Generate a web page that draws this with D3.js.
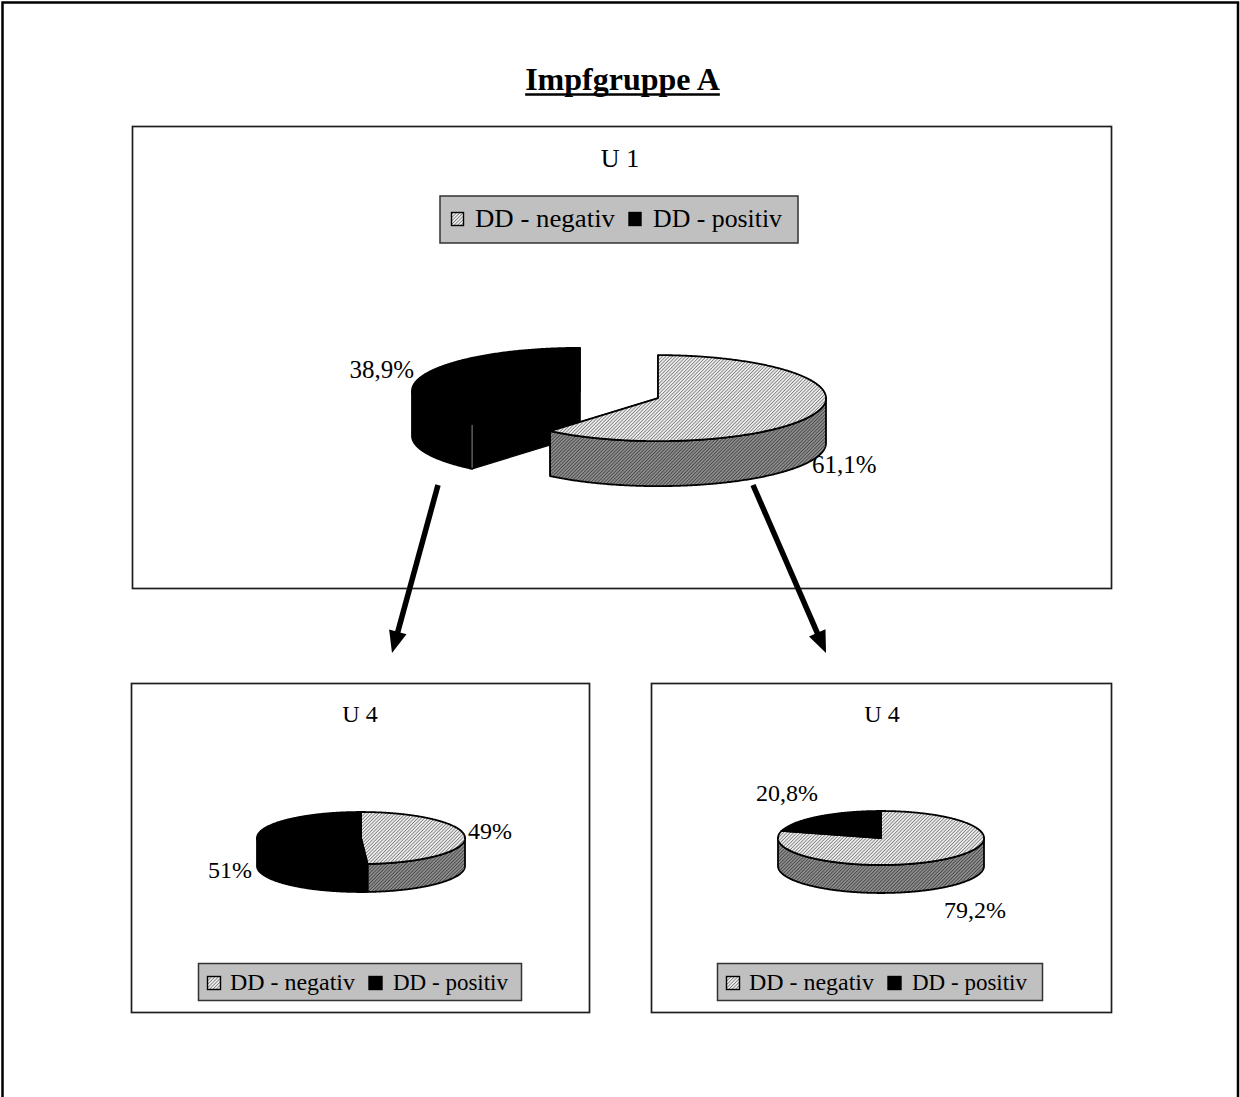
<!DOCTYPE html>
<html>
<head>
<meta charset="utf-8">
<script src="https://cdn.jsdelivr.net/npm/d3@7"></script>
<style>
  body { margin: 0; background: #fff; }
  svg { display: block; }
</style>
</head>
<body>
<script>
// ---- data ----
const pageTitle = "Impfgruppe A";
const categories = ["DD - negativ", "DD - positiv"];
const chartNames = ["U 1", "U 4", "U 4"];
const valuesU1 = [61.1, 38.9];
const valuesU4Left = [49, 51];
const valuesU4Right = [79.2, 20.8];

// ---- layout ----
const W = 1240, H = 1097;
const serif = "'Liberation Serif', 'Times New Roman', serif";

const svg = d3.select("body").append("svg")
  .attr("width", W).attr("height", H)
  .style("font-family", serif);

// hatch fills for the "negativ" slice: light top face, darker side wall
const defs = svg.append("defs");
function hatch(id, bg, lineColor, size, lineW) {
  const p = defs.append("pattern")
    .attr("id", id).attr("patternUnits", "userSpaceOnUse")
    .attr("width", size).attr("height", size)
    .attr("patternTransform", "rotate(45)");
  p.append("rect").attr("width", size).attr("height", size).attr("fill", bg);
  p.append("line").attr("x1", 0).attr("y1", 0).attr("x2", 0).attr("y2", size)
    .attr("stroke", lineColor).attr("stroke-width", lineW);
}
hatch("hatchTop", "#ececec", "#3a3a3a", 2.4, 1.0);
hatch("hatchSide", "#8c8c8c", "#1c1c1c", 2.4, 1.0);

const sliceStyle = [
  { top: "url(#hatchTop)", side: "url(#hatchSide)", edge: "#000" },
  { top: "#000", side: "#000", edge: "#000" }
];

// outer page frame
svg.append("rect").attr("x", 2.5).attr("y", 2.5)
  .attr("width", W - 4.5).attr("height", H + 10)
  .attr("fill", "#fff").attr("stroke", "#000").attr("stroke-width", 2.5);

// page title, bold with underline
const titleText = svg.append("text")
  .attr("x", 622.5).attr("y", 90)
  .attr("text-anchor", "middle")
  .attr("font-size", 32).attr("font-weight", "bold")
  .text(pageTitle);
const tw = titleText.node().getComputedTextLength();
svg.append("line")
  .attr("x1", 622.5 - tw / 2).attr("x2", 622.5 + tw / 2)
  .attr("y1", 94.5).attr("y2", 94.5)
  .attr("stroke", "#000").attr("stroke-width", 2.5);

const fmtPct = v => String(v).replace(".", ",") + "%";

// chart panels
const panels = [
  {
    name: chartNames[0], values: valuesU1,
    box: { x: 132.5, y: 126.5, w: 979, h: 462 },
    nameAt: { x: 620, y: 167 }, nameSize: 26,
    pie: { cx: 619, cy: 394.5, rx: 168, ry: 43, depth: 45, explode: 0.247 },
    labelSize: 25,
    labels: [ { x: 812, y: 473, anchor: "start" }, { x: 414, y: 378, anchor: "end" } ],
    legend: { x: 440, y: 196, w: 358, h: 47, size: 25,
      items: [ { sx: 451, tx: 475, len: 140 }, { sx: 628.5, tx: 653, len: 129 } ],
      sy: 212, sw: 12, sh: 13, base: 227 }
  },
  {
    name: chartNames[1], values: valuesU4Left,
    box: { x: 131.5, y: 683.5, w: 458, h: 329 },
    nameAt: { x: 360, y: 722 }, nameSize: 24,
    pie: { cx: 361, cy: 838, rx: 104, ry: 26, depth: 28, explode: 0 },
    labelSize: 24,
    labels: [ { x: 468, y: 839, anchor: "start" }, { x: 252, y: 878, anchor: "end" } ],
    legend: { x: 198.5, y: 963.5, w: 323, h: 37, size: 23,
      items: [ { sx: 207, tx: 230, len: 125 }, { sx: 368.5, tx: 393, len: 115 } ],
      sy: 976, sw: 13, sh: 13, base: 990 }
  },
  {
    name: chartNames[2], values: valuesU4Right,
    box: { x: 651.5, y: 683.5, w: 460, h: 329 },
    nameAt: { x: 882, y: 722 }, nameSize: 24,
    pie: { cx: 881, cy: 838, rx: 103, ry: 27, depth: 28, explode: 0 },
    labelSize: 24,
    labels: [ { x: 944, y: 918, anchor: "start" }, { x: 818, y: 801, anchor: "end" } ],
    legend: { x: 717.5, y: 963.5, w: 325, h: 37, size: 23,
      items: [ { sx: 726, tx: 749, len: 125 }, { sx: 887.5, tx: 912, len: 115 } ],
      sy: 976, sw: 13, sh: 13, base: 990 }
  }
];

// 3D pie: elliptical top faces extruded downward
function drawPie3D(g, values, cfg) {
  const arcs = d3.pie().sort(null).startAngle(0).endAngle(2 * Math.PI)(values);
  arcs.forEach(d => {
    const m = (d.startAngle + d.endAngle) / 2;
    d.cx = cfg.cx + cfg.explode * cfg.rx * Math.sin(m);
    d.cy = cfg.cy - cfg.explode * cfg.ry * Math.cos(m);
  });
  const pt = (d, a, dy = 0) => [d.cx + cfg.rx * Math.sin(a), d.cy - cfg.ry * Math.cos(a) + dy];
  const arcPts = (d, a0, a1, dy = 0) => {
    const n = Math.max(2, Math.ceil(Math.abs(a1 - a0) / 0.01));
    return d3.range(n + 1).map(i => pt(d, a0 + (a1 - a0) * i / n, dy));
  };
  const line = d3.line();

  const topFace = (sel, d) => {
    const pts = [[d.cx, d.cy]].concat(arcPts(d, d.startAngle, d.endAngle));
    sel.append("path").attr("d", line(pts) + "Z")
      .attr("fill", sliceStyle[d.index].top)
      .attr("stroke", sliceStyle[d.index].edge).attr("stroke-width", 1.8)
      .attr("stroke-linejoin", "round");
  };
  const outerWall = (sel, d) => {
    const a0 = Math.max(d.startAngle, Math.PI / 2);
    const a1 = Math.min(d.endAngle, 3 * Math.PI / 2);
    if (a1 <= a0) return;
    const pts = arcPts(d, a0, a1).concat(arcPts(d, a1, a0, cfg.depth));
    sel.append("path").attr("d", line(pts) + "Z")
      .attr("fill", sliceStyle[d.index].side)
      .attr("stroke", sliceStyle[d.index].edge).attr("stroke-width", 1.8)
      .attr("stroke-linejoin", "round");
    // faint crease where the cut face meets the curved wall of a dark slice
    if (cfg.explode > 0 && sliceStyle[d.index].side === "#000" && d.startAngle > Math.PI / 2) {
      const p = pt(d, d.startAngle);
      sel.append("line").attr("x1", p[0]).attr("y1", p[1] + 1)
        .attr("x2", p[0]).attr("y2", p[1] + cfg.depth - 1)
        .attr("stroke", "#8a8a8a").attr("stroke-width", 1);
    }
  };
  const radialWalls = (sel, d) => {
    [d.startAngle, d.endAngle].forEach(a => {
      const p = pt(d, a);
      const pts = [[d.cx, d.cy], p, [p[0], p[1] + cfg.depth], [d.cx, d.cy + cfg.depth]];
      sel.append("path").attr("d", line(pts) + "Z")
        .attr("fill", sliceStyle[d.index].side)
        .attr("stroke", sliceStyle[d.index].edge).attr("stroke-width", 1.2)
        .attr("stroke-linejoin", "round");
    });
  };

  if (cfg.explode > 0) {
    // separated slices: paint each one whole, back to front
    arcs.slice().sort((a, b) => a.cy - b.cy).forEach(d => {
      const sg = g.append("g");
      radialWalls(sg, d);
      outerWall(sg, d);
      topFace(sg, d);
    });
  } else {
    arcs.forEach(d => outerWall(g, d));
    arcs.forEach(d => topFace(g, d));
  }
  return arcs;
}

panels.forEach(p => {
  const g = svg.append("g");
  g.append("rect")
    .attr("x", p.box.x).attr("y", p.box.y).attr("width", p.box.w).attr("height", p.box.h)
    .attr("fill", "#fff").attr("stroke", "#1e1e1e").attr("stroke-width", 1.7);

  g.append("text").attr("x", p.nameAt.x).attr("y", p.nameAt.y)
    .attr("text-anchor", "middle").attr("font-size", p.nameSize).text(p.name);

  const arcs = drawPie3D(g, p.values, p.pie);

  g.selectAll("text.val").data(arcs).join("text").attr("class", "val")
    .attr("x", d => p.labels[d.index].x).attr("y", d => p.labels[d.index].y)
    .attr("text-anchor", d => p.labels[d.index].anchor)
    .attr("font-size", p.labelSize)
    .text(d => fmtPct(d.data));

  // legend box
  const L = p.legend;
  const lg = g.append("g");
  lg.append("rect").attr("x", L.x).attr("y", L.y).attr("width", L.w).attr("height", L.h)
    .attr("fill", "#c0c0c0").attr("stroke", "#333").attr("stroke-width", 1.5);
  categories.forEach((c, i) => {
    const it = L.items[i];
    lg.append("rect").attr("x", it.sx + 0.5).attr("y", L.sy + 0.5)
      .attr("width", L.sw).attr("height", L.sh)
      .attr("fill", sliceStyle[i].top).attr("stroke", "#000").attr("stroke-width", 1.4);
    lg.append("text").attr("x", it.tx).attr("y", L.base)
      .attr("font-size", L.size)
      .attr("textLength", it.len).attr("lengthAdjust", "spacingAndGlyphs")
      .text(c);
  });
});

// arrows from the U 1 chart down to the two U 4 charts
const arrows = [
  { from: [438, 485], to: [392, 653] },
  { from: [753, 485], to: [826, 653] }
];
arrows.forEach(a => {
  const dx = a.to[0] - a.from[0], dy = a.to[1] - a.from[1];
  const len = Math.hypot(dx, dy), ux = dx / len, uy = dy / len;
  const headL = 22, headW = 9;
  const bx = a.to[0] - ux * headL, by = a.to[1] - uy * headL;
  svg.append("line")
    .attr("x1", a.from[0]).attr("y1", a.from[1])
    .attr("x2", bx + ux * 2).attr("y2", by + uy * 2)
    .attr("stroke", "#000").attr("stroke-width", 5.5);
  svg.append("path")
    .attr("d", d3.line()([a.to, [bx - uy * headW, by + ux * headW], [bx + uy * headW, by - ux * headW]]) + "Z")
    .attr("fill", "#000");
});
</script>
</body>
</html>
